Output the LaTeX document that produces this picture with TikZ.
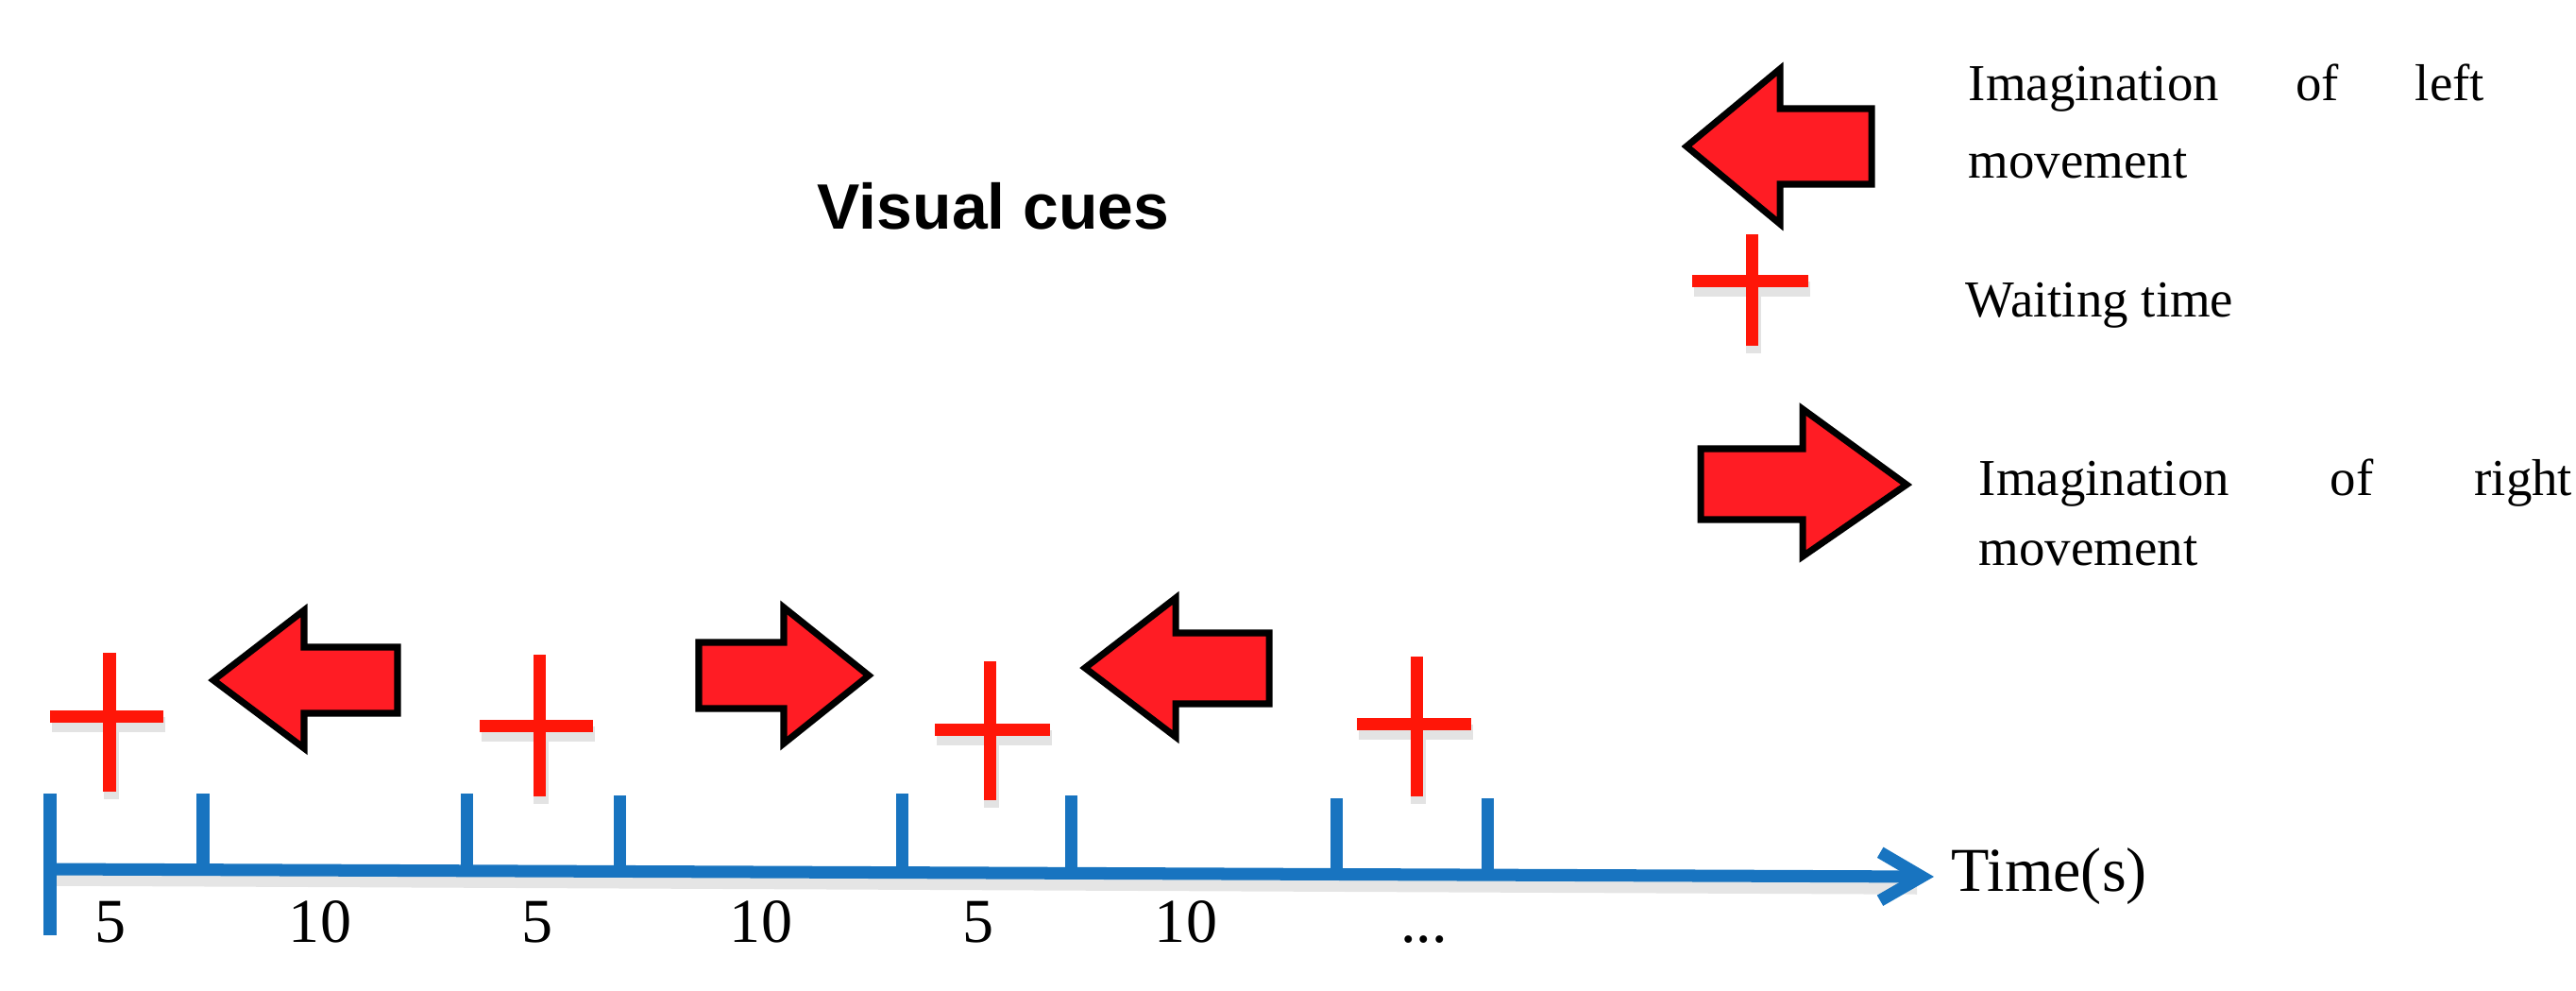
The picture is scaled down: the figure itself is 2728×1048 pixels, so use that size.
\documentclass[tikz,border=0pt]{standalone}
\usepackage{fontspec}
\setmainfont{Liberation Serif}
\newfontfamily\cuefont{Liberation Sans}
\usetikzlibrary{arrows.meta}
\definecolor{axisblue}{RGB}{24,116,192}
\definecolor{crossred}{RGB}{255,22,8}
\definecolor{arrowred}{RGB}{255,28,36}
\tikzset{
  axisline/.style={draw=axisblue, line width=3.7pt},
  axisshadow/.style={draw=black!10, line width=4.4pt},
  crossbar/.style={draw=crossred, line width=3.7pt},
  shadowbar/.style={draw=black!11, line width=4.4pt},
  blockarrow/.style={fill=arrowred, draw=black, line width=2pt, line join=miter},
  legendtext/.style={font=\fontsize{15.6}{18}\selectfont, anchor=base west, inner sep=0pt},
  ticklabel/.style={font=\fontsize{18.8}{22}\selectfont, anchor=base, inner sep=0pt},
}
% cross: #1 vertical x, #2 top, #3 bottom, #4 horizontal y, #5 left, #6 right
\newcommand\cuecross[6]{%
  \draw[shadowbar] ({#5+2},{#4+9}) -- ({#6+2},{#4+9});
  \draw[shadowbar] ({#1+2},{#4+12}) -- ({#1+2},{#3+8});
  \draw[crossbar] (#1,#2) -- (#1,#3);
  \draw[crossbar] (#5,#4) -- (#6,#4);
}
% left block arrow: tip x, tip y, head back x, head top, head bottom, shaft top, shaft bottom, shaft end
\newcommand\leftblock[8]{%
  \draw[blockarrow] (#1,#2) -- (#3,#4) -- (#3,#6) -- (#8,#6) -- (#8,#7) -- (#3,#7) -- (#3,#5) -- cycle;
}
% right block arrow: shaft start, shaft top, shaft bottom, head back x, head top, head bottom, tip x, tip y
\newcommand\rightblock[8]{%
  \draw[blockarrow] (#1,#2) -- (#4,#2) -- (#4,#5) -- (#7,#8) -- (#4,#6) -- (#4,#3) -- (#1,#3) -- cycle;
}
\begin{document}
\begin{tikzpicture}[x=0.01cm,y=-0.01cm]
\useasboundingbox (0,0) rectangle (2728,1048);

% title
\node[font=\cuefont\bfseries\fontsize{19.3}{23}\selectfont, anchor=base, inner sep=0pt] (title) at (1052,242) {Visual cues};

% legend
\leftblock{1786}{155}{1885}{73}{237}{115}{195}{1982}
\node[legendtext] (leftA) at (2084,106) {\hbox to 5.46cm{Imagination\hfill of\hfill left}};
\node[legendtext] (leftB) at (2084,188) {movement};
\cuecross{1855}{248}{366}{297}{1792}{1915}
\node[legendtext] (wait) at (2081,335) {Waiting time};
\rightblock{1801}{475}{550}{1909}{433}{589}{2019}{513}
\node[legendtext] (rightA) at (2095,524) {\hbox to 6.28cm{Imagination\hfill of\hfill right}};
\node[legendtext] (rightB) at (2095,598) {movement};

% timeline
\coordinate (ax0) at (53,920);
\coordinate (ax1) at (2048,928);
\draw[axisshadow] (53,930) -- (2030,939);
\draw[axisline, -{Straight Barb[length=12.5pt, width=14.5pt]}] (ax0) -- (ax1);
\coordinate (t0top) at (53,840);
\coordinate (t0bot) at (53,990);
\draw[axisline] (t0top) -- (t0bot);
\foreach \tx/\ty/\tt [count=\i] in {215/920.6/840, 494/921.8/840, 656/922.4/842, 955/923.6/840, 1134/924.3/842, 1415/925.4/845, 1575/926/845}{
  \coordinate (tk\i a) at (\tx,\tt);
  \coordinate (tk\i b) at (\tx,\ty);
  \draw[axisline] (tk\i a) -- (tk\i b);
}

% labels under the axis
\node[ticklabel] (l1) at (117,997) {5};
\node[ticklabel] (l2) at (339,997) {10};
\node[ticklabel] (l3) at (569,997) {5};
\node[ticklabel] (l4) at (806,997) {10};
\node[ticklabel] (l5) at (1036,997) {5};
\node[ticklabel] (l6) at (1256,997) {10};
\node[ticklabel] (l7) at (1508,997) {...};
\node[ticklabel, anchor=base west] (timelab) at (2066,943) {Time(s)};

% cues over the axis
\cuecross{116}{691}{838}{758}{53}{173}
\leftblock{226}{720}{322}{646}{792}{685}{755}{421}
\cuecross{571}{693}{843}{768}{508}{628}
\rightblock{740}{680}{750}{830}{643}{787}{920}{715}
\cuecross{1048}{700}{847}{772}{990}{1112}
\leftblock{1149}{707}{1245}{633}{780}{670}{745}{1344}
\cuecross{1500}{695}{843}{766}{1437}{1558}
\end{tikzpicture}
\end{document}
